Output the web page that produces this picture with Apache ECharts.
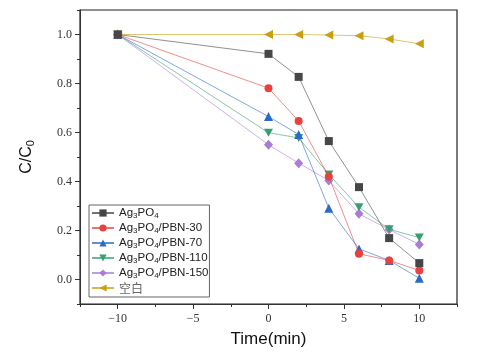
<!DOCTYPE html>
<html>
<head>
<meta charset="utf-8">
<script src="https://cdn.jsdelivr.net/npm/echarts@6/dist/echarts.min.js"></script>
<style>
  html, body { margin: 0; padding: 0; background: #fff; }
  #chart { width: 504px; height: 353px; }
</style>
</head>
<body>
<div id="chart"></div>
<script>
  const times = [-10, 0, 2, 4, 6, 8, 10]
  const seriesNames = ['Ag3PO4', 'Ag3PO4/PBN-30', 'Ag3PO4/PBN-70', 'Ag3PO4/PBN-110', 'Ag3PO4/PBN-150', '空白']
  const ag3po4 = [1.0, 0.921, 0.827, 0.565, 0.377, 0.169, 0.067]
  const pbn30 = [1.0, 0.781, 0.647, 0.42, 0.105, 0.078, 0.037]
  const pbn70 = [1.0, 0.665, 0.592, 0.291, 0.125, 0.078, 0.005]
  const pbn110 = [1.0, 0.599, 0.578, 0.429, 0.295, 0.205, 0.171]
  const pbn150 = [1.0, 0.55, 0.475, 0.404, 0.268, 0.204, 0.143]
  const blank = [1.0, 1.0, 1.0, 0.998, 0.995, 0.982, 0.962]
  const xMajor = [-10, -5, 0, 5, 10]
  const xMinor = [-12.5, -7.5, -2.5, 2.5, 7.5, 12.5]
  const yMajor = [0, 0.2, 0.4, 0.6, 0.8, 1.0]
  const yMinor = [-0.1, 0.1, 0.3, 0.5, 0.7, 0.9, 1.1]

  const chart = echarts.init(document.getElementById('chart'))

  const colors = ['#464646', '#e8413e', '#2a6bc9', '#3a9e70', '#a97dd6', '#c9a012']
  const symbols = ['rect', 'circle', 'triangle', 'path://M0,0 L10,0 L5,9 Z', 'diamond', 'path://M10,0 L10,10 L0,5 Z']
  const sizes = [8, 8, 9, [9, 8], [9, 10], [9, 9]]
  const values = [ag3po4, pbn30, pbn70, pbn110, pbn150, blank]

  const series = seriesNames.map((name, i) => ({
    name,
    type: 'line',
    data: times.map((t, j) => [t, values[i][j]]),
    symbol: symbols[i],
    symbolSize: sizes[i],
    showAllSymbol: true,
    itemStyle: { color: colors[i] },
    lineStyle: { color: colors[i], width: 0.8, opacity: 0.75 },
    z: 10 - i
  }))

  const tickLabelStyle = { fontFamily: 'Liberation Serif', fontSize: 12, color: '#333' }
  const axisLineStyle = { onZero: false, lineStyle: { color: '#333', width: 1 } }

  chart.setOption({
    animation: false,
    grid: { left: 80, right: 47, top: 10, bottom: 48, show: true, borderColor: '#222', borderWidth: 1.2 },
    legend: {
      data: seriesNames,
      orient: 'vertical',
      left: 89,
      top: 205,
      itemWidth: 22,
      itemHeight: 9,
      itemGap: 2.5,
      padding: [2, 1, 3, 2],
      borderColor: '#666',
      borderWidth: 1,
      borderRadius: 0,
      backgroundColor: '#fff',
      textStyle: {
        rich: {
          t: { fontFamily: 'Liberation Sans', fontSize: 11.5, color: '#222', lineHeight: 13 },
          s: { fontFamily: 'Liberation Sans', fontSize: 8, color: '#222', lineHeight: 8, verticalAlign: 'bottom' },
          c: { fontFamily: 'Noto Sans CJK SC', fontSize: 12, color: '#666', lineHeight: 13 }
        }
      },
      formatter: name => {
        if (name.startsWith('Ag3PO4')) {
          const rest = name.slice(6)
          return '{t|Ag}{s|3}{t|PO}{s|4}' + (rest ? '{t|' + rest + '}' : '')
        }
        return '{c|' + name + '}'
      }
    },
    xAxis: [
      {
        type: 'value',
        min: -12.5,
        max: 12.5,
        interval: 2.5,
        name: 'Time(min)',
        nameLocation: 'middle',
        nameGap: 27,
        nameTextStyle: { fontFamily: 'Liberation Sans', fontSize: 17, color: '#111' },
        axisLine: axisLineStyle,
        axisTick: { show: true, length: 5, customValues: xMajor, lineStyle: { color: '#333' } },
        axisLabel: {
          ...tickLabelStyle,
          margin: 9,
          customValues: xMajor,
          formatter: v => String(v).replace('-', '\u2212')
        },
        splitLine: { show: false }
      },
      {
        type: 'value',
        min: -12.5,
        max: 12.5,
        interval: 2.5,
        position: 'bottom',
        axisLine: { show: false, onZero: false },
        axisTick: { show: true, length: 3, customValues: xMinor, lineStyle: { color: '#333' } },
        axisLabel: { show: false },
        splitLine: { show: false }
      }
    ],
    yAxis: [
      {
        type: 'value',
        min: -0.1,
        max: 1.1,
        interval: 0.1,
        name: '{a|C/C}{b|0}',
        nameLocation: 'middle',
        nameGap: 44,
        nameTextStyle: {
          rich: {
            a: { fontFamily: 'Liberation Sans', fontSize: 16, color: '#111', lineHeight: 18 },
            b: { fontFamily: 'Liberation Sans', fontSize: 11, color: '#111', lineHeight: 11, verticalAlign: 'bottom' }
          }
        },
        axisLine: axisLineStyle,
        axisTick: { show: true, length: 5, customValues: yMajor, lineStyle: { color: '#333' } },
        axisLabel: {
          ...tickLabelStyle,
          margin: 8,
          customValues: yMajor,
          formatter: v => v.toFixed(1)
        },
        splitLine: { show: false }
      },
      {
        type: 'value',
        min: -0.1,
        max: 1.1,
        interval: 0.1,
        position: 'left',
        axisLine: { show: false, onZero: false },
        axisTick: { show: true, length: 3, customValues: yMinor, lineStyle: { color: '#333' } },
        axisLabel: { show: false },
        splitLine: { show: false }
      }
    ],
    series
  })
</script>
</body>
</html>
